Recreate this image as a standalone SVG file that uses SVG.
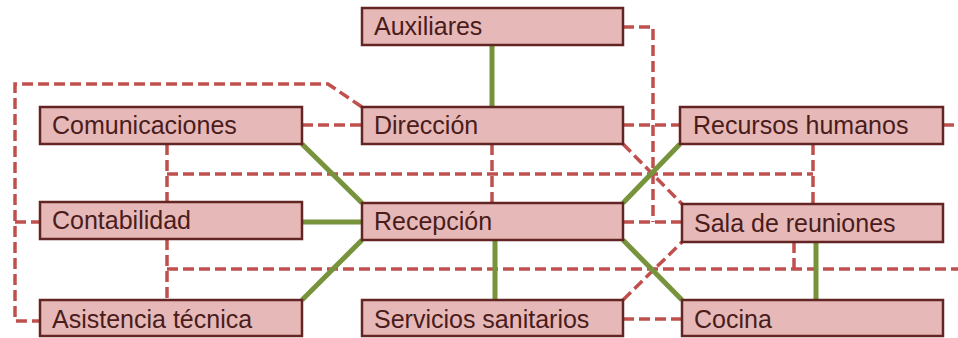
<svg xmlns="http://www.w3.org/2000/svg" width="958" height="338" viewBox="0 0 958 338">
<style>
.box{fill:#e6b9b8;stroke:#632523;stroke-width:2.5}
.lbl{font-family:"Liberation Sans",Arial,sans-serif;font-size:25px;fill:#4a1c1b}
.g{stroke:#77933c;stroke-width:5;fill:none}
.r{stroke:#c0504d;stroke-width:3.5;fill:none;stroke-dasharray:11 5}
</style>
<rect width="958" height="338" fill="#ffffff"/>
<g id="connectors">
<path class="r" d="M362,107 L328,84 L15,84 L15,321 L40,321"/>
<path class="r" d="M15,222 L40,222"/>
<path class="r" d="M302,125 L362,125"/>
<path class="r" d="M623,27 L653,27 L653,222"/>
<path class="r" d="M623,222 L682,222"/>
<path class="r" d="M623,125 L680,125"/>
<path class="r" d="M623,144 L682,204"/>
<path class="r" d="M943,125 L958,125"/>
<path class="r" d="M167,144 L167,201"/>
<path class="r" d="M167,174 L813,174"/>
<path class="r" d="M813,144 L813,204"/>
<path class="r" d="M492,144 L492,203"/>
<path class="r" d="M167,239 L167,300"/>
<path class="r" d="M167,269 L958,269"/>
<path class="r" d="M794,242 L794,269"/>
<path class="r" d="M623,300 L682,242"/>
<path class="r" d="M623,319 L682,319"/>
<path class="g" d="M492,45 L492,107"/>
<path class="g" d="M302,144 L362,203"/>
<path class="g" d="M302,222 L362,222"/>
<path class="g" d="M302,300 L362,240"/>
<path class="g" d="M623,203 L680,144"/>
<path class="g" d="M623,240 L682,300"/>
<path class="g" d="M495,240 L495,300"/>
<path class="g" d="M816,242 L816,300"/>
</g>
<g id="auxiliares"><rect class="box" x="362" y="8" width="261" height="37"/><text class="lbl" x="374" y="35">Auxiliares</text></g>
<g id="comunicaciones"><rect class="box" x="40" y="107" width="262" height="37"/><text class="lbl" x="52" y="134">Comunicaciones</text></g>
<g id="direccion"><rect class="box" x="362" y="107" width="261" height="37"/><text class="lbl" x="374" y="134">Dirección</text></g>
<g id="recursos-humanos"><rect class="box" x="680" y="107" width="263" height="37"/><text class="lbl" x="693" y="134">Recursos humanos</text></g>
<g id="contabilidad"><rect class="box" x="40" y="202" width="262" height="37"/><text class="lbl" x="52" y="229">Contabilidad</text></g>
<g id="recepcion"><rect class="box" x="362" y="203" width="261" height="37"/><text class="lbl" x="374" y="230">Recepción</text></g>
<g id="sala-de-reuniones"><rect class="box" x="682" y="204" width="261" height="38"/><text class="lbl" x="694" y="232">Sala de reuniones</text></g>
<g id="asistencia-tecnica"><rect class="box" x="40" y="300" width="262" height="36"/><text class="lbl" x="52" y="328">Asistencia técnica</text></g>
<g id="servicios-sanitarios"><rect class="box" x="362" y="300" width="261" height="36"/><text class="lbl" x="374" y="328">Servicios sanitarios</text></g>
<g id="cocina"><rect class="box" x="682" y="300" width="261" height="36"/><text class="lbl" x="694" y="328">Cocina</text></g>
</svg>
